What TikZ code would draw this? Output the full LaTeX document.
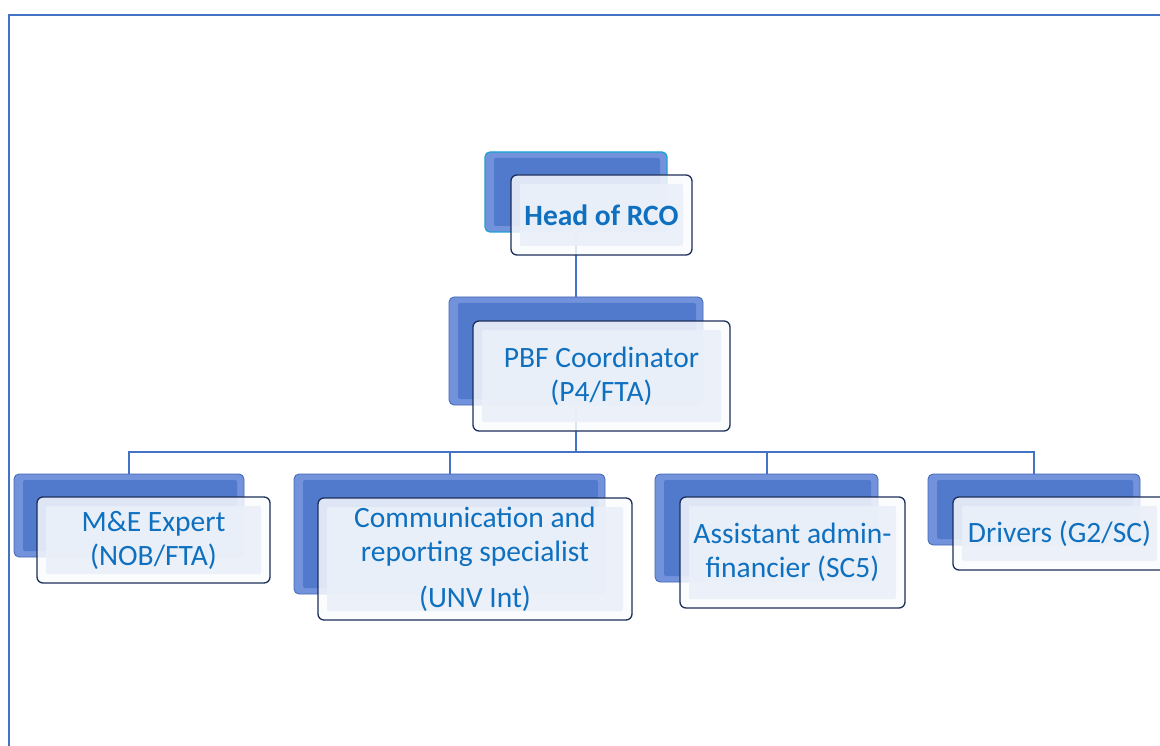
\documentclass[tikz,border=0pt]{standalone}
\usepackage{fontspec}
\setmainfont{Carlito}
\usetikzlibrary{backgrounds}
\definecolor{linkblue}{HTML}{4472C4}
\definecolor{backlight}{HTML}{7293DC}
\definecolor{backmid}{HTML}{5179CC}
\definecolor{backedge}{HTML}{4266B4}
\definecolor{headedge}{HTML}{1BA1D2}
\definecolor{frontedge}{HTML}{1C2F5A}
\definecolor{frontout}{HTML}{FAFBFD}
\definecolor{frontin}{HTML}{EAF0F9}
\definecolor{textblue}{HTML}{0F70C0}
\begin{document}
\begin{tikzpicture}[x=1pt,y=-1pt,
  backbox/.style={rounded corners=5pt, draw=backedge, line width=0.8pt, fill=backlight,
    inner sep=0pt, outer sep=0pt,
    path picture={\fill[backmid, rounded corners=2pt]
      ([shift={(9pt,-6pt)}]path picture bounding box.north west) rectangle
      ([shift={(-7pt,6pt)}]path picture bounding box.south east);}},
  frontbox/.style={rounded corners=6pt, draw=frontedge, line width=1.3pt,
    fill=frontout, fill opacity=0.84, text opacity=1, text=textblue,
    inner sep=0pt, outer sep=0pt, align=center,
    font=\fontsize{29.5}{34}\selectfont,
    path picture={\fill[frontin, rounded corners=2pt, fill opacity=0.9]
      ([shift={(9pt,-9pt)}]path picture bounding box.north west) rectangle
      ([shift={(-9pt,9pt)}]path picture bounding box.south east);}},
  link/.style={draw=linkblue, line width=2pt}]
\useasboundingbox (0,0) rectangle (1160,746);
% frame
\draw[linkblue, line width=2.4pt] (9,746) -- (9,15) -- (1162,15);
% back boxes
\node[backbox, draw=headedge, line width=1.3pt, minimum width=182pt, minimum height=80pt] (hb) at (576,192) {};
\node[backbox, minimum width=254pt, minimum height=108pt] (pb) at (576,351) {};
\node[backbox, minimum width=230pt, minimum height=83pt] (mb) at (129,515.5) {};
\node[backbox, minimum width=311pt, minimum height=120pt] (cb) at (449.5,534) {};
\node[backbox, minimum width=223pt, minimum height=108pt] (ab) at (766.5,528) {};
\node[backbox, minimum width=212pt, minimum height=71pt] (db) at (1034,509.5) {};
% connectors
\coordinate (bus) at (576,452);
\begin{scope}[on background layer]
\draw[link] (hb.center) -- (pb.center);
\draw[link] (pb.center) -- (pb.center |- bus);
\draw[link] (mb.north) -- (mb.north |- bus) -- (db.north |- bus) -- (db.north);
\draw[link] (cb.north) -- (cb.north |- bus);
\draw[link] (ab.north) -- (ab.north |- bus);
\end{scope}
% front boxes
\node[frontbox, minimum width=181pt, minimum height=80pt, font=\fontsize{29.5}{34}\selectfont\bfseries] (hf) at (601.5,215) {Head of RCO};
\node[frontbox, minimum width=257pt, minimum height=110pt] (pf) at (601.5,376) {PBF Coordinator\\(P4/FTA)};
\node[frontbox, minimum width=233pt, minimum height=86pt] (mf) at (153.5,540) {M\&E Expert\\(NOB/FTA)};
\node[frontbox, minimum width=314pt, minimum height=122pt] (cf) at (475,559) {Communication and\\reporting specialist\\[12pt](UNV Int)};
\node[frontbox, minimum width=225pt, minimum height=111pt] (af) at (792.5,552.5) {Assistant admin-\\financier (SC5)};
\node[frontbox, minimum width=213pt, minimum height=73pt] (df) at (1059.5,533.5) {Drivers (G2/SC)};
\end{tikzpicture}
\end{document}
